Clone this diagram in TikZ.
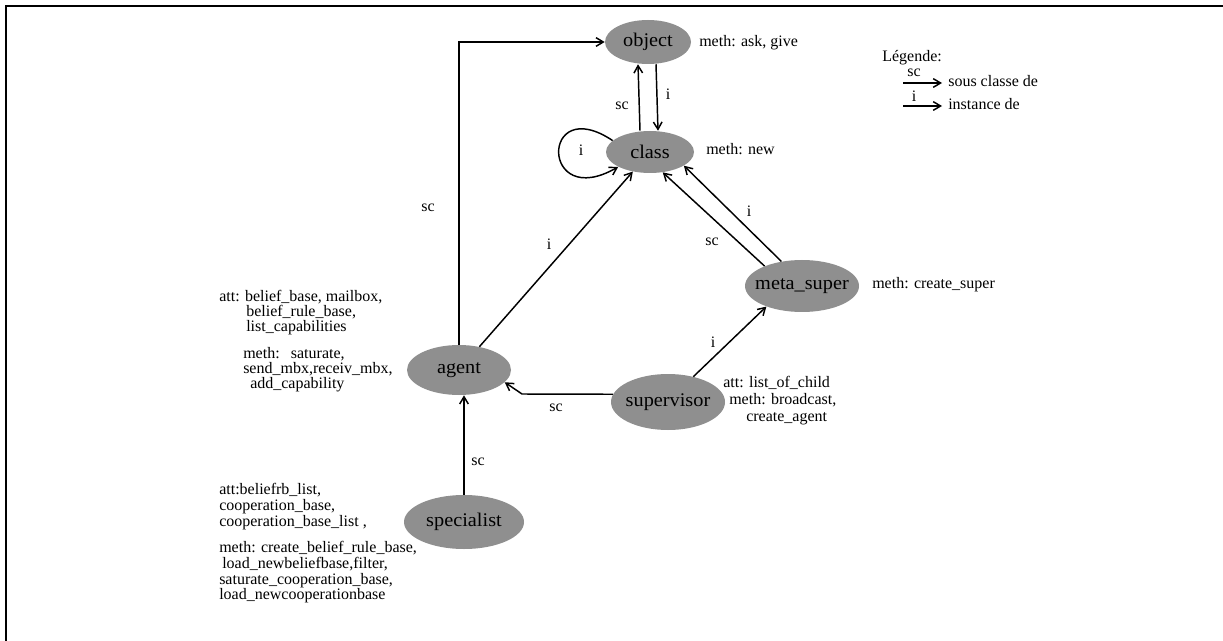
\documentclass[tikz,border=0pt]{standalone}
\usepackage{fontspec}
\setmainfont{Liberation Serif}
\newfontfamily\clsfont{Liberation Serif}[FakeStretch=1.05]
\usetikzlibrary{shapes.geometric,arrows.meta}
\newcommand\dtext{\fontsize{12pt}{12pt}\selectfont}
\newcommand\ctext{\clsfont\fontsize{14.5pt}{14.5pt}\selectfont}
\begin{document}
\begin{tikzpicture}[x=0.75pt,y=-0.75pt,
  cls/.style={ellipse, fill=black!44, inner sep=0pt},
  clab/.style={inner sep=0pt, font=\ctext},
  txt/.style={anchor=base west, inner sep=0pt, font=\dtext},
  tag/.style={inner sep=0pt, font=\dtext},
  rel/.style={line width=1.1pt, -{Straight Barb[length=5.5pt,width=6.5pt]}}]

\useasboundingbox (0,0) rectangle (1223,641);
\fill[white] (0,0) rectangle (1223,641);
% frame
\draw[line width=1.5pt] (6,641) -- (6,6) -- (1223,6);

% classes (shaded ellipses, names set on top)
\node[cls, minimum width=64.5pt, minimum height=33pt] (object) at (648,42) {};
\node[cls, minimum width=66pt, minimum height=31.5pt] (class) at (650,152) {};
\node[cls, minimum width=85.5pt, minimum height=39pt] (meta) at (802,286) {};
\node[cls, minimum width=78pt, minimum height=37.5pt] (agent) at (459,370) {};
\node[cls, minimum width=85.5pt, minimum height=42pt] (supervisor) at (668,402) {};
\node[cls, minimum width=90pt, minimum height=40.5pt] (specialist) at (464,522) {};
\node[clab] (nobject) at (object) {object};
\node[clab] (nclass) at (class) {class};
\node[clab] (nmeta) at (meta) {meta\_super};
\node[clab] (nagent) at (agent) {agent};
\node[clab] (nsupervisor) at (supervisor) {supervisor};
\node[clab] (nspecialist) at (specialist) {specialist};

% methods and attributes
\node[txt] (mobject) at (699,47) {meth: ask, give};
\node[txt] (mclass) at (706,155) {meth: new};
\node[txt] (mmeta) at (872,289) {meth: create\_super};

\node[txt] (a1) at (219,301) {att: belief\_base, mailbox,};
\node[txt] (a2) at (246,316) {belief\_rule\_base,};
\node[txt] (a3) at (246,331) {list\_capabilities};
\node[txt] (a4) at (243,358) {meth:\hspace{0.7em}saturate,};
\node[txt] (a5) at (243,373) {send\_mbx,receiv\_mbx,};
\node[txt] (a6) at (250,388) {add\_capability};

\node[txt] (v1) at (723,387) {att: list\_of\_child};
\node[txt] (v2) at (729,404) {meth: broadcast,};
\node[txt] (v3) at (746,421) {create\_agent};

\node[txt] (s1) at (219,494) {att:beliefrb\_list,};
\node[txt] (s2) at (219,510) {cooperation\_base,};
\node[txt] (s3) at (219,526) {cooperation\_base\_list ,};
\node[txt] (s4) at (219,552) {meth: create\_belief\_rule\_base,};
\node[txt] (s5) at (222,568) {load\_newbeliefbase,filter,};
\node[txt] (s6) at (219,584) {saturate\_cooperation\_base,};
\node[txt] (s7) at (219,599) {load\_newcooperationbase};

% relations
\draw[rel] (agent.north) |- (object.west);
\node[tag] (t1) at (428,208) {sc};

\draw[rel] ([xshift=-7.5pt]class.north) -- ([xshift=-7.5pt]object.south);
\node[tag] (t2) at (622,106) {sc};
\draw[rel] ([xshift=6pt]object.south) -- ([xshift=6pt]class.north);
\node[tag] (t3) at (668,94) {i};

\draw[rel] (class.163) .. controls (540,92) and (540,212) .. (class.205);
\node[tag] (t4) at (581,150) {i};

\draw[rel] (agent) -- (class);
\node[tag] (t5) at (549,244) {i};

\draw[rel] (meta.152) -- (class.-58);
\node[tag] (t6) at (712,242) {sc};
\draw[rel] (meta.130) -- (class.-22);
\node[tag] (t7) at (749,211) {i};

\draw[rel] (supervisor.45) -- (meta.-150);
\node[tag] (t8) at (713,342) {i};

\coordinate (bend) at (522,394);
\draw[rel] (supervisor.172) -- (bend) -- (agent.-15);
\node[tag] (t9) at (556,408) {sc};

\draw[rel] (specialist.north) -- (specialist.north |- agent.south);
\node[tag] (t10) at (478,462) {sc};

% legend
\node[txt] (leg) at (882,62) {Légende:};
\coordinate (k1a) at (903,83);
\coordinate (k1b) at (942,83);
\draw[rel] (k1a) -- (k1b);
\node[tag] (k1t) at (914,73) {sc};
\node[txt] (k1d) at (948,87) {sous classe de};
\coordinate (k2a) at (903,106);
\coordinate (k2b) at (942,106);
\draw[rel] (k2a) -- (k2b);
\node[tag] (k2t) at (914,96) {i};
\node[txt] (k2d) at (948,110) {instance de};
\end{tikzpicture}
\end{document}
